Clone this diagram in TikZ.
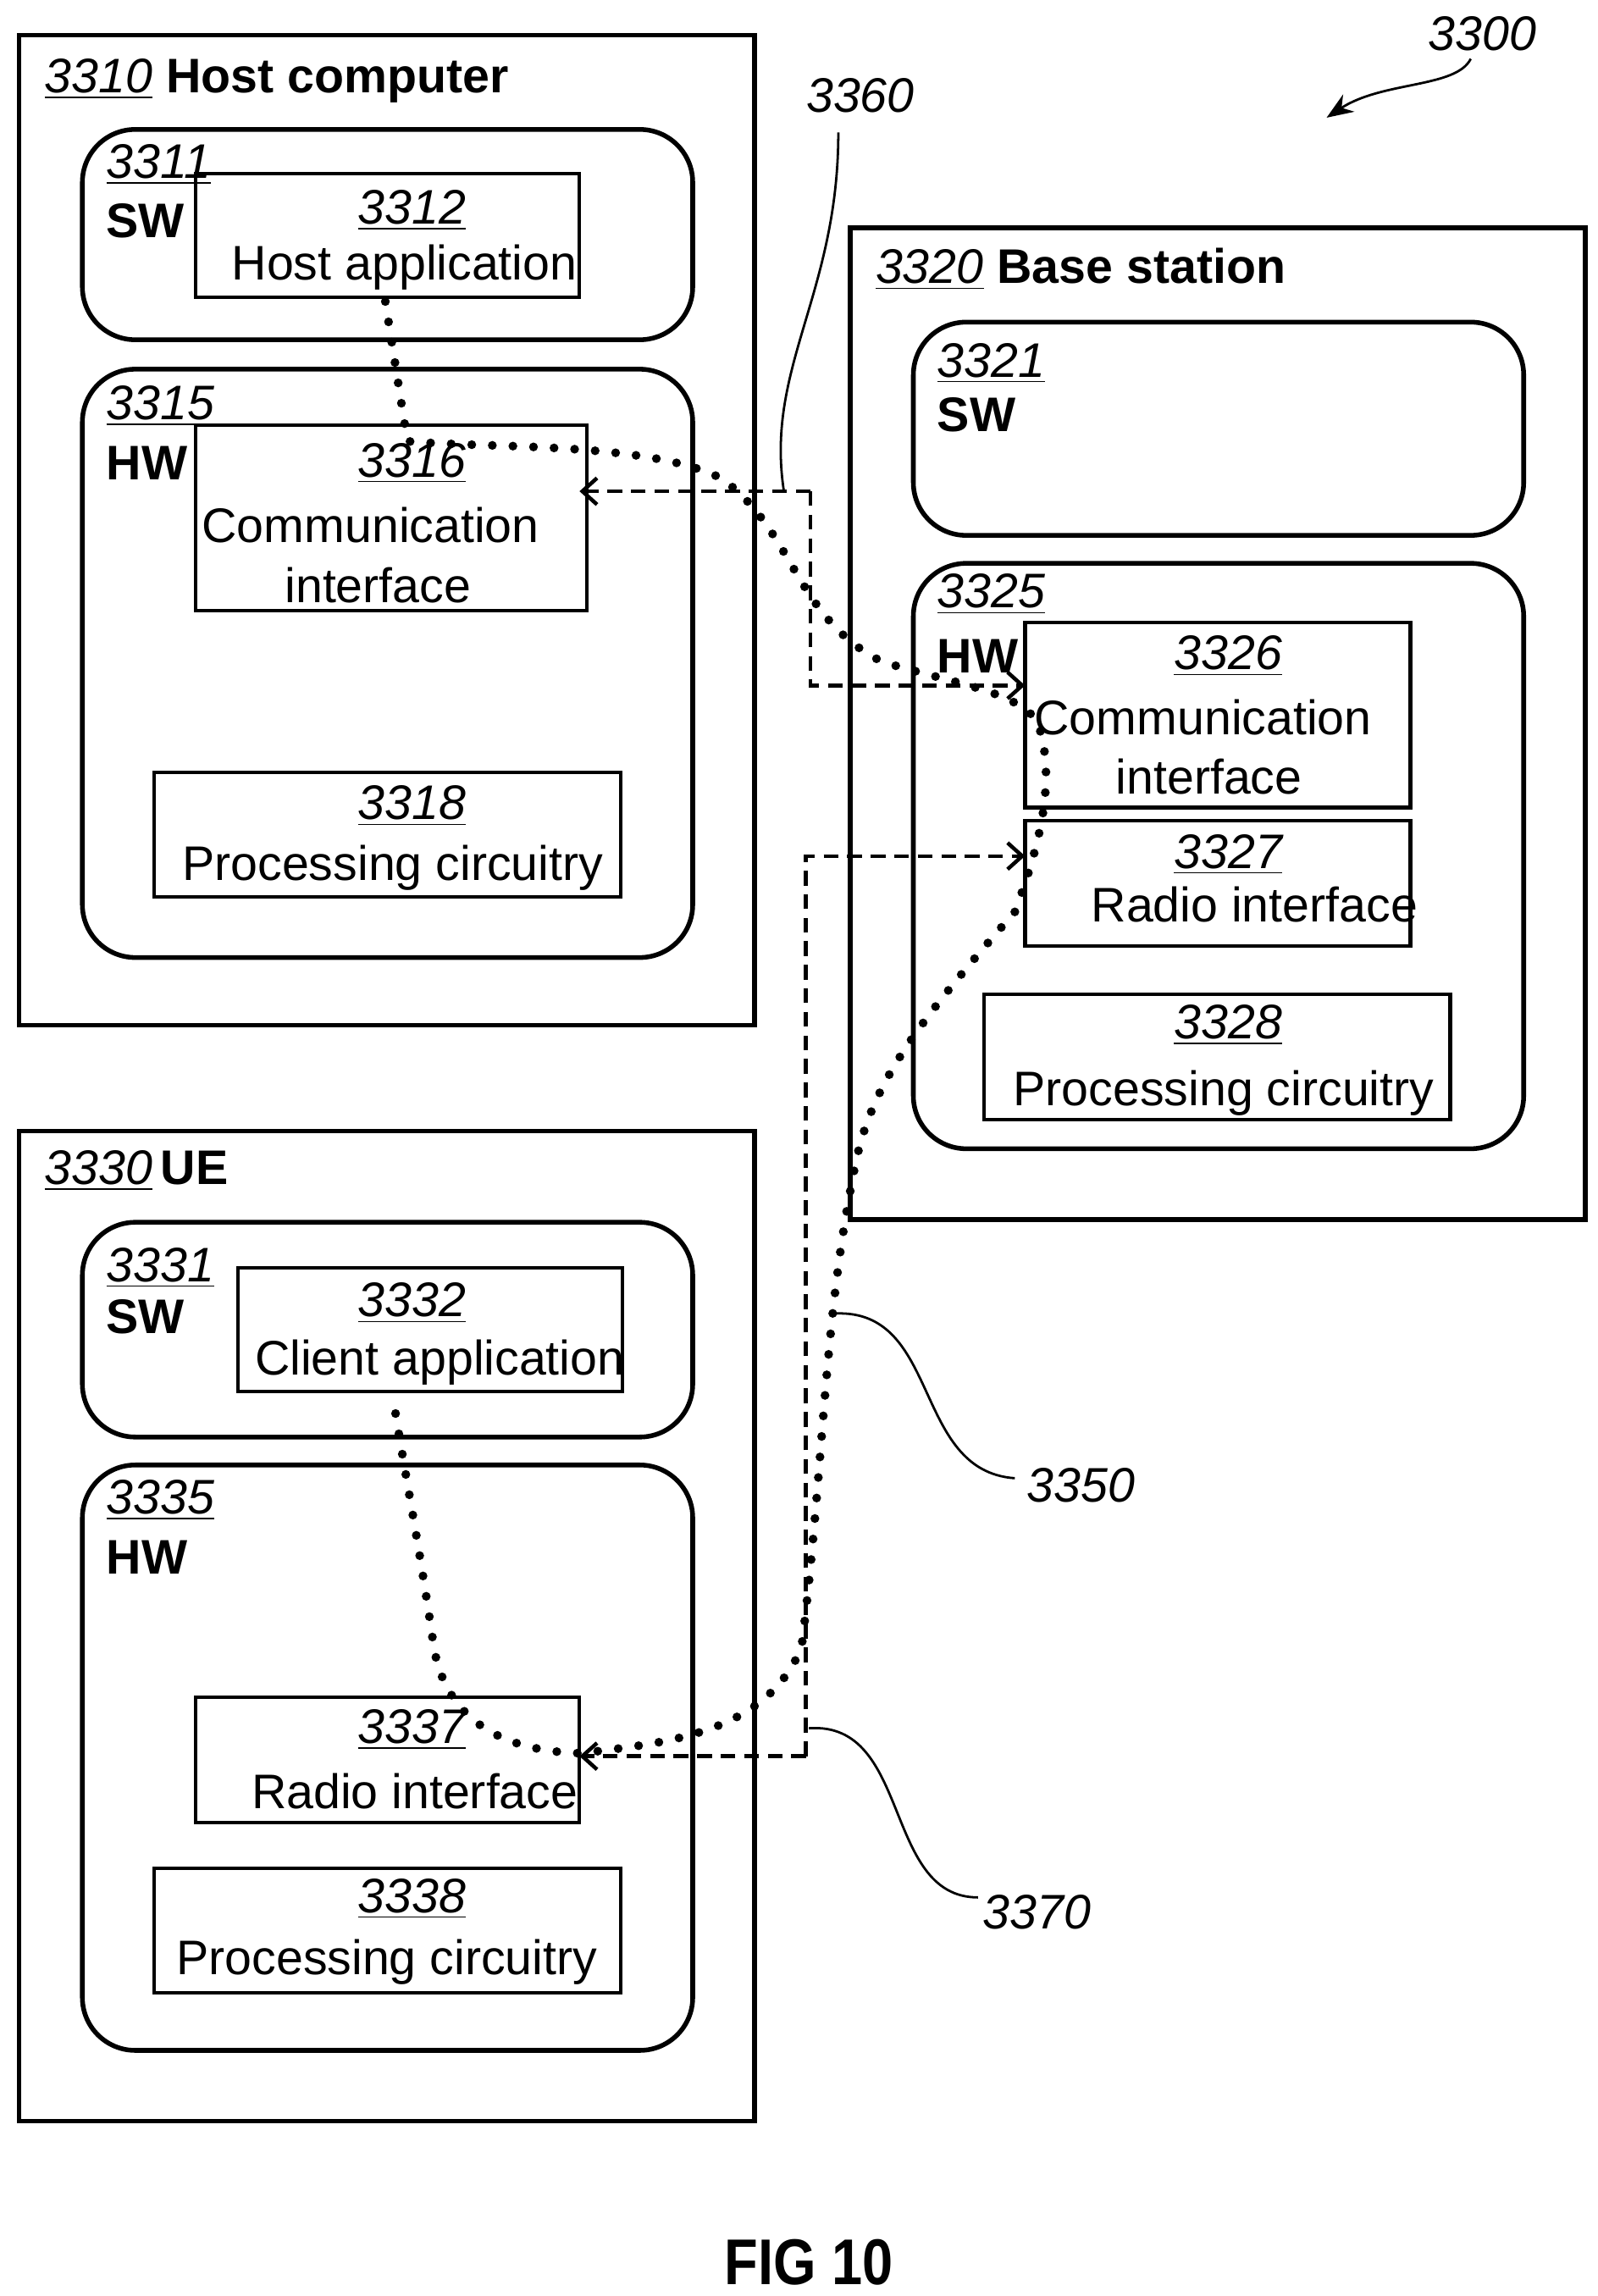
\documentclass[tikz,border=0pt]{standalone}
\usepackage{fontspec}
\setmainfont{Liberation Sans}
\usetikzlibrary{arrows.meta}
\begin{document}
\begin{tikzpicture}[x=0.5pt,y=-0.5pt,
 box/.style={draw,line width=1.2pt},
 rbox/.style={draw,line width=1.6pt,rounded corners=18pt},
 obox/.style={draw,line width=1.6pt},
 t/.style={font=\fontsize{16.5}{18}\selectfont,inner sep=0pt},
 it/.style={t,font=\fontsize{16.5}{18}\selectfont\itshape},
 num/.style={it,anchor=west},
 lab/.style={t,anchor=west,font=\fontsize{16.5}{18}\selectfont\bfseries},
 dsh/.style={line width=1.3pt,dash pattern=on 5pt off 3pt},
 dot/.style={line width=3pt,line cap=round,dash pattern=on 0pt off 7pt},
 lead/.style={line width=0.8pt},
 arr/.style={-{Straight Barb[length=5pt,width=9pt]}}]
\useasboundingbox (0,0) rectangle (1086,1561);
% Host
\draw[obox] (13,24) rectangle (513,697);
\node[t,anchor=west] (h) at (30,55) {\itshape\underline{3310}\upshape\ \bfseries Host computer};
\draw[rbox] (56,88) rectangle (471,231);
\node[num] (n3311) at (72,112) {\underline{3311}};
\node[lab] (sw1) at (72,150) {SW};
\draw[box] (133,118) rectangle (394,202);
\node[it] (n3312) at (280,143) {\underline{3312}};
\node[t] (ha) at (275,182) {Host application};
\draw[rbox] (56,251) rectangle (471,651);
\node[num] (n3315) at (72,276) {\underline{3315}};
\node[lab] (hw1) at (72,315) {HW};
\draw[box] (133,289) rectangle (399,415);
\node[it] (n3316) at (280,315) {\underline{3316}};
\node[t] (ci1) at (252,357) {Communication};
\node[t] (ci1b) at (257,398) {interface};
\draw[box] (105,525) rectangle (422,610);
\node[it] (n3318) at (280,548) {\underline{3318}};
\node[t] (pc1) at (267,590) {Processing circuitry};
% Base station
\draw[obox] (578,155) rectangle (1078,829);
\node[t,anchor=west] (b) at (595,183) {\itshape\underline{3320}\upshape\ \bfseries Base station};
\draw[rbox] (621,219) rectangle (1036,364);
\node[num] (n3321) at (637,247) {\underline{3321}};
\node[lab] (sw2) at (637,282) {SW};
\draw[rbox] (621,383) rectangle (1036,781);
\node[num] (n3325) at (637,404) {\underline{3325}};
\node[lab] (hw2) at (637,446) {HW};
\draw[box] (697,423) rectangle (959,549);
\node[it] (n3326) at (835,446) {\underline{3326}};
\node[t] (ci2) at (818,488) {Communication};
\node[t] (ci2b) at (822,528) {interface};
\draw[box] (697,558) rectangle (959,643);
\node[it] (n3327) at (835,581) {\underline{3327}};
\node[t] (ri2) at (853,615) {Radio interface};
\draw[box] (669,676) rectangle (986,761);
\node[it] (n3328) at (835,697) {\underline{3328}};
\node[t] (pc2) at (832,743) {Processing circuitry};
% UE
\draw[obox] (13,769) rectangle (513,1442);
\node[t,anchor=west] (u) at (30,796) {\itshape\underline{3330}\upshape\,\bfseries UE};
\draw[rbox] (56,831) rectangle (471,977);
\node[num] (n3331) at (72,862) {\underline{3331}};
\node[lab] (sw3) at (72,895) {SW};
\draw[box] (162,862) rectangle (423,946);
\node[it] (n3332) at (280,886) {\underline{3332}};
\node[t] (ca) at (299,926) {Client application};
\draw[rbox] (56,996) rectangle (471,1394);
\node[num] (n3335) at (72,1020) {\underline{3335}};
\node[lab] (hw3) at (72,1059) {HW};
\draw[box] (133,1154) rectangle (394,1239);
\node[it] (n3337) at (280,1176) {\underline{3337}};
\node[t] (ri3) at (282,1218) {Radio interface};
\draw[box] (105,1270) rectangle (422,1355);
\node[it] (n3338) at (280,1291) {\underline{3338}};
\node[t] (pc3) at (263,1334) {Processing circuitry};
% dashed connections
\coordinate (a1) at (394,334); \coordinate (a2) at (697,466);
\coordinate (c1) at (394,1194); \coordinate (c2) at (697,582);
\draw[dsh,arr] (551,334) -- (a1);
\draw[dsh,arr] (551,334) -- (551,466) -- (a2);
\draw[dsh,arr] (548,1194) -- (c1);
\draw[dsh,arr] (548,1194) -- (548,582) -- (c2);
% dotted 3350
\draw[dot] (262,205) -- (277,300) .. controls (330,305) and (440,300) .. (490,325)
  .. controls (540,360) and (540,420) .. (600,450) .. controls (650,465) and (690,470) .. (705,490)
  .. controls (720,530) and (705,580) .. (690,620) .. controls (620,700) and (590,740) .. (580,800)
  .. controls (560,900) and (560,1000) .. (545,1120) .. controls (520,1180) and (450,1185) .. (395,1192)
  .. controls (320,1190) and (300,1150) .. (295,1120) .. controls (285,1050) and (275,1000) .. (268,955);
% leaders
\node[it] (l3360) at (585,65) {3360};
\draw[lead] (570,90) .. controls (570,200) and (520,250) .. (533,334);
\node[it] (l3350) at (735,1010) {3350};
\draw[lead] (568,893) .. controls (640,890) and (620,1000) .. (690,1005);
\node[it] (l3370) at (705,1300) {3370};
\draw[lead] (550,1175) .. controls (620,1170) and (600,1290) .. (665,1290);
\node[it] (l3300) at (1008,23) {3300};
\draw[lead,-{Stealth[length=9pt,width=7pt]}] (1000,40) .. controls (990,60) and (940,55) .. (902,80);
\node[t,font=\fontsize{22}{24}\selectfont\bfseries,xscale=0.85] (fig) at (550,1538) {FIG 10};
\end{tikzpicture}
\end{document}
